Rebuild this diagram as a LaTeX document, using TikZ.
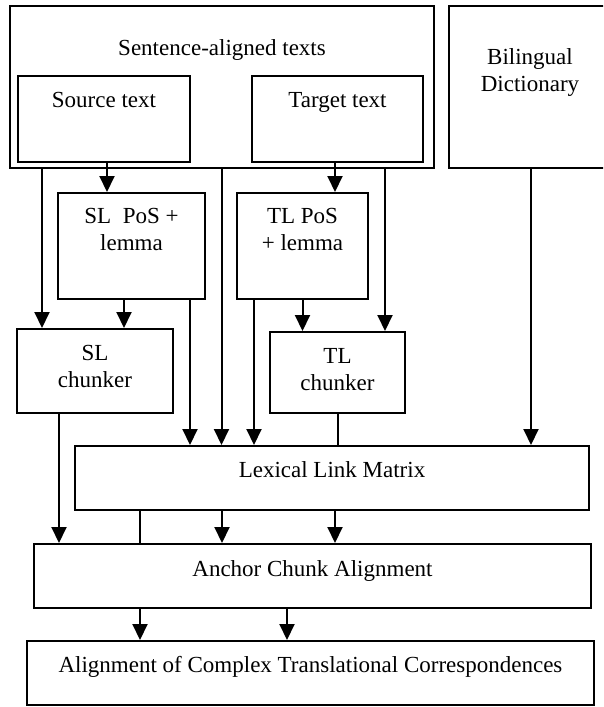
\documentclass[tikz,border=0pt]{standalone}
\usepackage{fontspec}
\setmainfont{Liberation Serif}
\usetikzlibrary{arrows.meta,positioning}

\begin{document}
\begin{tikzpicture}[x=1pt, y=-1pt,
  box/.style={draw, line width=2pt, inner sep=0pt},
  outer/.style={box, line width=2.7pt},
  txt/.style={anchor=north, yshift=-#1, align=center, inner sep=0pt, font=\fontsize{23}{27}\selectfont},
  txt/.default=17pt,
  arrow/.style={-{Triangle[length=16pt, width=15pt]}, line width=2pt},
  link/.style={line width=2pt}
]
\useasboundingbox (0,0) rectangle (603,707);
\clip (0,0) rectangle (603,707);
\node[outer, minimum width=424pt, minimum height=162pt, label={[txt=34.5pt]north:Sentence-aligned texts}] (sat) at (222,87) {};
\node[outer, minimum width=172pt, minimum height=86pt, label={[txt=17.5pt]north:Source text}] (src) at (104,119) {};
\node[outer, minimum width=171pt, minimum height=86pt, label={[txt=17.5pt]north:Target text}] (tgt) at (337.5,119) {};
\node[outer, minimum width=162pt, minimum height=162pt, label={[txt=43.5pt]north:Bilingual\\Dictionary}] (dict) at (530,87) {};
\node[box, minimum width=147pt, minimum height=106pt, label={[txt=16.5pt]north:SL~~PoS +\\lemma}] (slpos) at (131.5,246) {};
\node[box, minimum width=131pt, minimum height=106pt, label={[txt=16.5pt]north:TL PoS\\+ lemma}] (tlpos) at (302.5,246) {};
\node[box, minimum width=156pt, minimum height=84pt, label={[txt=17.5pt]north:SL\\chunker}] (slch) at (95,371) {};
\node[box, minimum width=135pt, minimum height=81pt, label={[txt=17.5pt]north:TL\\chunker}] (tlch) at (337.5,372.5) {};
\node[box, minimum width=514pt, minimum height=64pt, label={[txt=16.5pt]north:Lexical Link Matrix}] (lex) at (332,478) {};
\node[box, minimum width=557pt, minimum height=64pt, label={[txt=17.5pt]north:Anchor Chunk Alignment}] (anc) at (312.5,576) {};
\node[box, minimum width=567pt, minimum height=64pt, label={[txt=16.5pt]north:Alignment of Complex Translational Correspondences}] (fin) at (310.5,673) {};
\draw[arrow] ([xshift=3pt]src.south) -- ([xshift=3pt]src.south |- slpos.north);
\draw[arrow] ([xshift=-2.5pt]tgt.south) -- ([xshift=-2.5pt]tgt.south |- tlpos.north);
\draw[arrow] ([xshift=-53pt]slch.north |- sat.south) -- ([xshift=-53pt]slch.north);
\draw[arrow] ([xshift=-110.5pt]lex.north |- sat.south) -- ([xshift=-110.5pt]lex.north);
\draw[arrow] ([xshift=47.5pt]tlch.north |- sat.south) -- ([xshift=47.5pt]tlch.north);
\draw[arrow] ([xshift=-7.5pt]slpos.south) -- ([xshift=-7.5pt]slpos.south |- slch.north);
\draw[arrow] ([xshift=58.5pt]slpos.south) -- ([xshift=58.5pt]slpos.south |- lex.north);
\draw[arrow] ([xshift=-48.5pt]tlpos.south) -- ([xshift=-48.5pt]tlpos.south |- lex.north);
\draw[arrow] (tlpos.south) -- (tlpos.south |- tlch.north);
\draw[link] (tlch.south) -- (tlch.south |- lex.north);
\draw[arrow] ([xshift=1pt]dict.south) -- ([xshift=1pt]dict.south |- lex.north);
\draw[arrow] ([xshift=-36pt]slch.south) -- ([xshift=-36pt]slch.south |- anc.north);
\draw[link] ([xshift=-192pt]lex.south) -- ([xshift=-192pt]lex.south |- anc.north);
\draw[arrow] ([xshift=-110pt]lex.south) -- ([xshift=-110pt]lex.south |- anc.north);
\draw[arrow] ([xshift=3pt]lex.south) -- ([xshift=3pt]lex.south |- anc.north);
\draw[arrow] ([xshift=-172.5pt]anc.south) -- ([xshift=-172.5pt]anc.south |- fin.north);
\draw[arrow] ([xshift=-25.5pt]anc.south) -- ([xshift=-25.5pt]anc.south |- fin.north);
\end{tikzpicture}
\end{document}
